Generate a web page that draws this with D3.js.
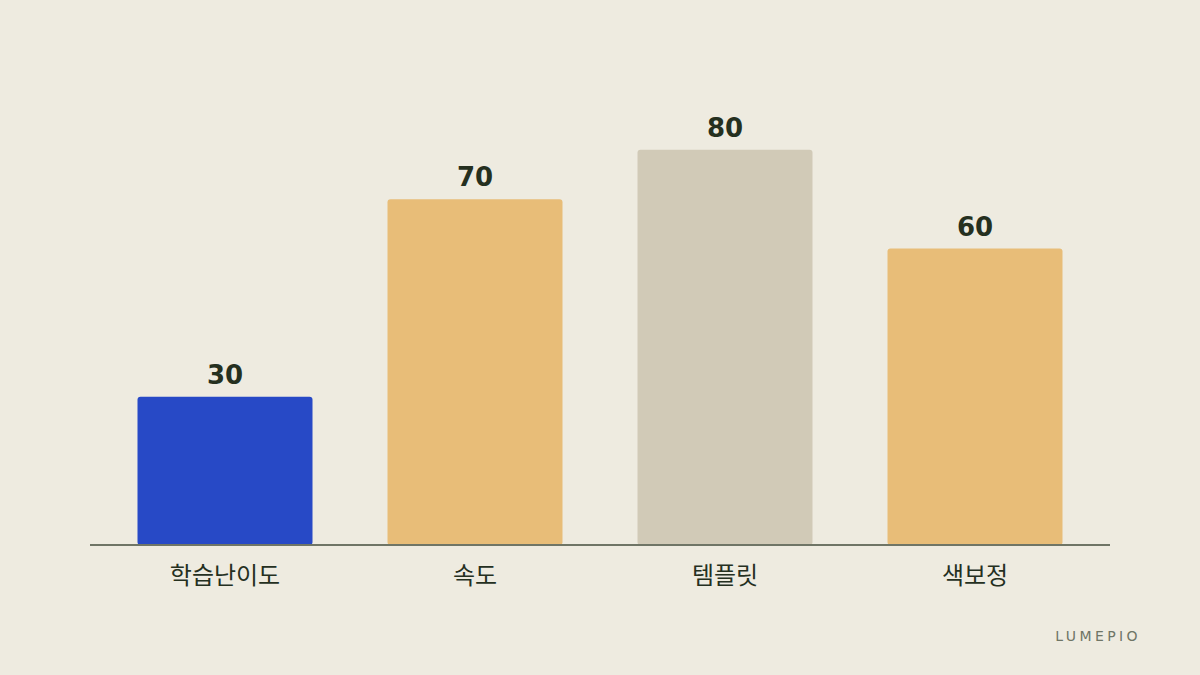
<!DOCTYPE html>
<html><head><meta charset="utf-8">
<script src="https://cdn.jsdelivr.net/npm/d3@7"></script>
<style>html,body{margin:0;padding:0;background:#eeebe0;}</style>
</head><body>
<svg id="c" width="1200" height="675"></svg>
<script>
const categories = ["학습난이도", "속도", "템플릿", "색보정"];
const values = [30, 70, 80, 60];
const colors = ["#2749c6", "#e8bd78", "#d1cab7", "#e8bd78"];

const svg = d3.select("#c");
svg.append("rect").attr("width",1200).attr("height",675).attr("fill","#eeebe0");

const x = d3.scaleBand().domain(categories).range([100,1100]).paddingInner(0.3).paddingOuter(0.15);
const y = d3.scaleLinear().domain([0,100]).range([545,51]);

svg.selectAll("rect.bar").data(values).enter().append("rect")
  .attr("class","bar")
  .attr("x",(d,i)=>x(categories[i]))
  .attr("width",x.bandwidth())
  .attr("y",d=>y(d))
  .attr("height",d=>y(0)-y(d))
  .attr("rx",3)
  .attr("fill",(d,i)=>colors[i]);

svg.append("line").attr("x1",90).attr("x2",1110).attr("y1",y(0)).attr("y2",y(0))
  .attr("stroke","#6f7566").attr("stroke-width",2);

svg.selectAll("text.val").data(values).enter().append("text")
  .attr("x",(d,i)=>x(categories[i])+x.bandwidth()/2)
  .attr("y",d=>y(d)-13)
  .attr("text-anchor","middle")
  .attr("font-family","DejaVu Sans")
  .attr("font-weight","bold")
  .attr("font-size",26)
  .attr("fill","#25301f")
  .text(d=>d);

svg.selectAll("text.cat").data(categories).enter().append("text")
  .attr("x",d=>x(d)+x.bandwidth()/2)
  .attr("y",584)
  .attr("text-anchor","middle")
  .attr("font-family","'Noto Sans CJK KR', sans-serif")
  .attr("font-size",24)
  .attr("fill","#25301f")
  .text(d=>d);

svg.append("text").attr("x",1141).attr("y",641).attr("text-anchor","end")
  .attr("font-family","DejaVu Sans").attr("font-size",14).attr("letter-spacing","3.4px")
  .attr("fill","#6f7566").text("LUMEPIO");
</script>
</body></html>
